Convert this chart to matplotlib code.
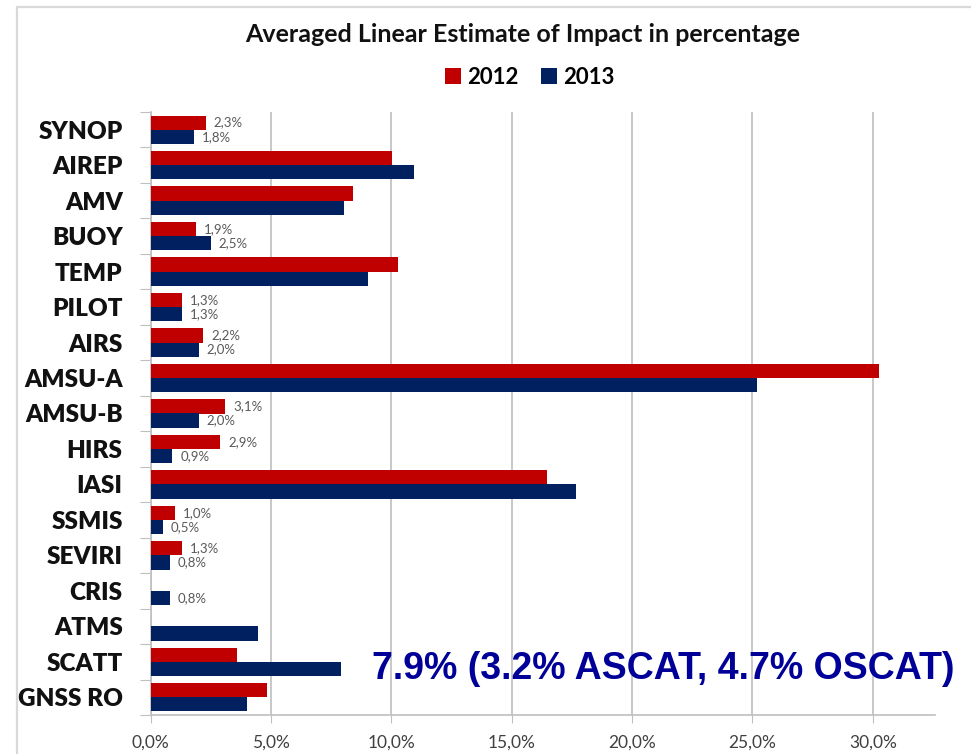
import numpy as np
import matplotlib
matplotlib.use("Agg")
import matplotlib.pyplot as plt
from matplotlib.patches import Rectangle

# Observation types, top to bottom
categories = ["SYNOP", "AIREP", "AMV", "BUOY", "TEMP", "PILOT", "AIRS", "AMSU-A",
              "AMSU-B", "HIRS", "IASI", "SSMIS", "SEVIRI", "CRIS", "ATMS", "SCATT", "GNSS RO"]
impact_2012 = [2.3, 10.03, 8.42, 1.9, 10.28, 1.3, 2.2, 30.27,
               3.1, 2.9, 16.46, 1.0, 1.3, 0.0, 0.0, 3.58, 4.85]
impact_2013 = [1.8, 10.96, 8.05, 2.5, 9.05, 1.3, 2.0, 25.17,
               2.0, 0.9, 17.66, 0.5, 0.8, 0.8, 4.45, 7.9, 4.02]
# data labels are only shown for the small bars
labelled_2012 = ["SYNOP", "BUOY", "PILOT", "AIRS", "AMSU-B", "HIRS", "SSMIS", "SEVIRI"]
labelled_2013 = ["SYNOP", "BUOY", "PILOT", "AIRS", "AMSU-B", "HIRS", "SSMIS", "SEVIRI", "CRIS"]
x_ticks = [0, 5, 10, 15, 20, 25, 30]
note = "7.9% (3.2% ASCAT, 4.7% OSCAT)"

RED = "#C00000"
BLUE = "#002060"
GRID = "#BFBFBF"
LATO = ["Lato", "DejaVu Sans"]
ARIAL = ["Liberation Sans", "DejaVu Sans"]

fig = plt.figure(figsize=(9.71, 7.54), dpi=100)
fig.patch.set_facecolor("white")

# chart area border (only top and left edges visible)
fig.add_artist(Rectangle((17 / 971, -0.05), 1.1, (754 - 7) / 754 + 0.05,
                         transform=fig.transFigure, fill=False,
                         edgecolor="#D9D9D9", linewidth=1.6))

ax = fig.add_axes([150.5 / 971, 1 - 715 / 754, (935 - 150.5) / 971, (715 - 112) / 754])

y = np.arange(len(categories))
h = 0.4
ax.barh(y - h / 2, impact_2012, height=h, color=RED, label="2012", zorder=3)
ax.barh(y + h / 2, impact_2013, height=h, color=BLUE, label="2013", zorder=3)

def fmt(v):
    return f"{v:.1f}%".replace(".", ",")

for i, cat in enumerate(categories):
    if cat in labelled_2012:
        ax.annotate(fmt(impact_2012[i]), (impact_2012[i], i - h / 2), xytext=(8, 0),
                    textcoords="offset pixels", va="center", ha="left",
                    fontsize=9.5, color="#595959", family=LATO)
    if cat in labelled_2013:
        ax.annotate(fmt(impact_2013[i]), (impact_2013[i], i + h / 2), xytext=(8, 0),
                    textcoords="offset pixels", va="center", ha="left",
                    fontsize=9.5, color="#595959", family=LATO)

ax.set_xlim(0, 32.58)
ax.set_ylim(len(categories) - 0.5, -0.5)

ax.set_xticks(x_ticks)
ax.set_xticklabels([fmt(t) for t in x_ticks],
                   fontsize=12.5, color="#404040", family=LATO)
ax.tick_params(axis="x", length=6, color=GRID, pad=8)
ax.xaxis.grid(True, color=GRID, linewidth=1.2, zorder=0)

# tick marks between categories, names at the centres
ax.set_yticks(np.arange(len(categories) + 1) - 0.5)
ax.set_yticklabels([])
ax.tick_params(axis="y", which="major", length=8, color=GRID)
ax.set_yticks(y, minor=True)
ax.set_yticklabels(categories, minor=True, fontsize=17.5, fontweight="heavy",
                   family=LATO, color="#111111")
ax.tick_params(axis="y", which="minor", length=0, pad=20)

for side in ["top", "right"]:
    ax.spines[side].set_visible(False)
ax.spines["left"].set_color(GRID)
ax.spines["bottom"].set_color(GRID)
ax.spines["left"].set_linewidth(1.2)
ax.spines["bottom"].set_linewidth(1.2)

fig.text(523 / 971, 1 - 35 / 754, "Averaged Linear Estimate of Impact in percentage",
         ha="center", va="center", fontsize=18, fontweight="bold", family=LATO,
         color="#111111")

fig.legend(loc="center", bbox_to_anchor=(530 / 971, 1 - 77 / 754), ncol=2, frameon=False,
           prop={"family": LATO, "weight": "bold", "size": 16},
           handlelength=0.7, handleheight=0.7, handletextpad=0.3, columnspacing=1.0)

fig.text(372 / 971, 1 - 669 / 754, note, ha="left", va="center", fontsize=27,
         fontweight="bold", family=ARIAL, color="#000099")

fig.savefig("out.png", dpi=100)
